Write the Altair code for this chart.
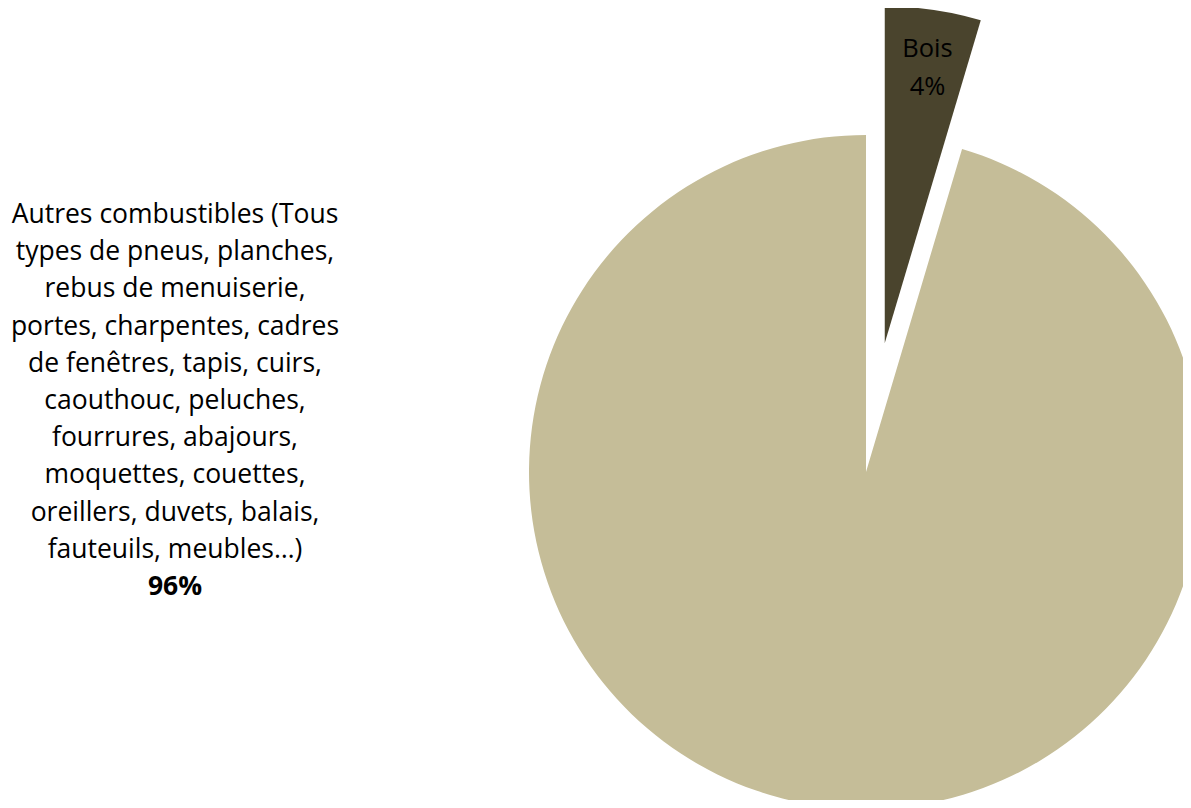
import altair as alt
import pandas as pd

# ---- data ----
categories = ["Bois", "Autres"]
values = [4.6, 95.4]                      # share of the pie (drawn angle)
pct_labels = ["4%", "96%"]                # labels as printed
autres_lines = [
    "Autres combustibles (Tous",
    "types de pneus, planches,",
    "rebus de menuiserie,",
    "portes, charpentes, cadres",
    "de fenêtres, tapis, cuirs,",
    "caouthouc, peluches,",
    "fourrures, abajours,",
    "moquettes, couettes,",
    "oreillers, duvets, balais,",
    "fauteuils, meubles…)",
]
colors = ["#4A442D", "#C5BD98"]

# ---- table ----
ends = pd.Series(values).cumsum()
df = pd.DataFrame({
    "cat": categories,
    "value": values,
    "start": ends - pd.Series(values),
    "end": ends,
    "pct": pct_labels,
})

FONT = "Open Sans"
FS = 26.5
LH = 37.2
CX, CY, R = 858, 464, 337

base = alt.Chart(df).transform_calculate(
    a0="2*PI*datum.start/100",
    a1="2*PI*datum.end/100",
    mid="(datum.a0 + datum.a1)/2",
    off="datum.cat == 'Bois' ? 130 : 0",
    px=f"{CX} + datum.off*sin(datum.mid)",
    py=f"{CY} - datum.off*cos(datum.mid)",
)

arcs = base.mark_arc(outerRadius=R).encode(
    theta=alt.Theta("a0:Q", scale=None),
    theta2="a1:Q",
    x=alt.X("px:Q", scale=None, axis=None),
    y=alt.Y("py:Q", scale=None, axis=None),
    color=alt.Color("cat:N", scale=alt.Scale(domain=categories, range=colors), legend=None),
)

bois_text = base.transform_filter("datum.cat == 'Bois'").transform_calculate(
    lx="datum.px + 297*sin(datum.mid)",
    ly="datum.py - 297*cos(datum.mid)",
    lbl="datum.cat + '\\n' + datum.pct",
).mark_text(font=FONT, fontSize=FS - 1, color="#000000", align="center",
            baseline="middle", lineBreak="\n", lineHeight=LH).encode(
    x=alt.X("lx:Q", scale=None, axis=None),
    y=alt.Y("ly:Q", scale=None, axis=None),
    text=alt.Text("lbl:N"),
)

desc_df = pd.DataFrame({"t": ["\n".join(autres_lines)]})
desc = alt.Chart(desc_df).mark_text(
    font=FONT, fontSize=FS, color="#000000", align="center", baseline="middle",
    lineBreak="\n", lineHeight=LH,
).encode(x=alt.value(167), y=alt.value(207), text="t:N")

pct96 = base.transform_filter("datum.cat == 'Autres'").mark_text(
    font=FONT, fontSize=FS, fontWeight="bold", color="#000000", align="center", baseline="middle",
).encode(x=alt.value(167), y=alt.value(579), text="pct:N")

chart = alt.layer(arcs, bois_text, desc, pct96).properties(
    width=1175, height=792, padding=0, autosize="none",
).configure_view(stroke=None)

chart.save("out.html", embed_options={"renderer": "svg", "actions": False})
